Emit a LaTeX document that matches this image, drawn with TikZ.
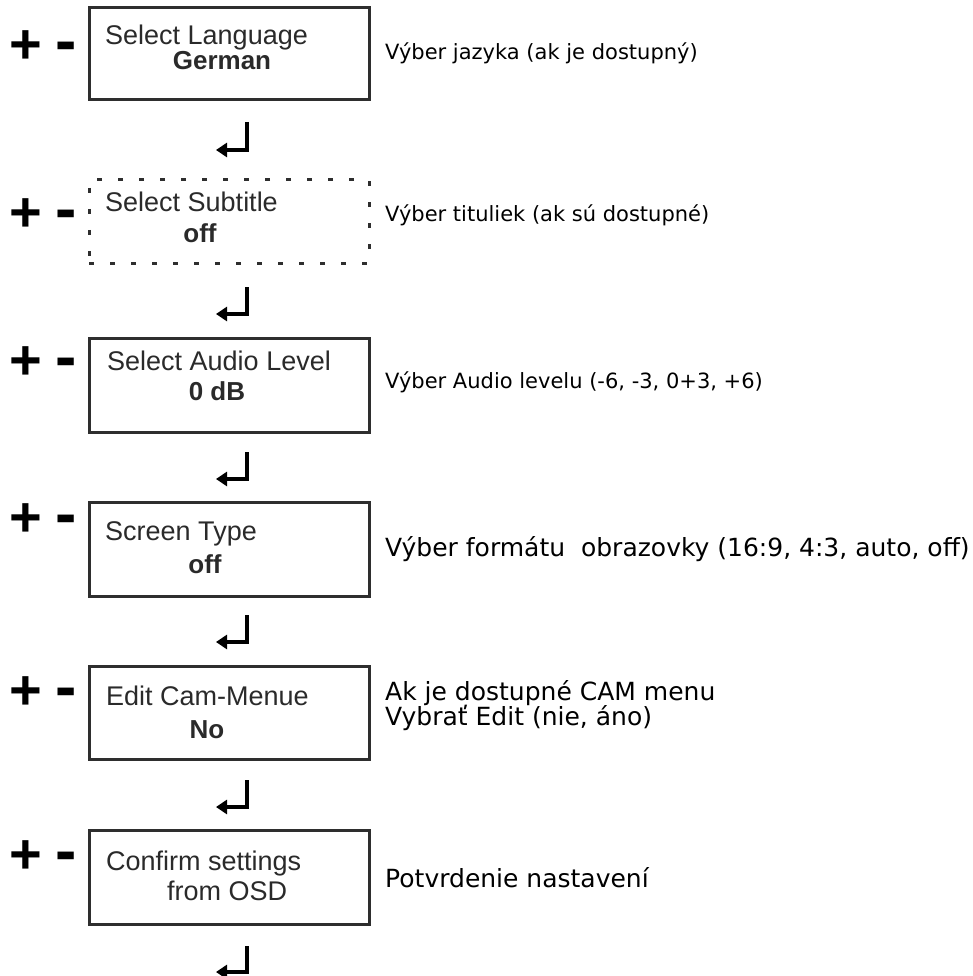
\documentclass[tikz,border=0pt]{standalone}
\usepackage{fontspec}
\setmainfont{Liberation Sans}
\newfontfamily\descfont{DejaVu Sans}
\usetikzlibrary{arrows.meta}
\definecolor{boxline}{HTML}{2E2E2E}
\definecolor{boxtext}{HTML}{2A2A2A}
\tikzset{
  menubox/.style={draw=boxline, line width=3pt, minimum width=280pt, inner sep=0pt, fill=none},
  dashbox/.style={draw=boxline, line width=3pt, dash pattern=on 5pt off 16pt, minimum width=280pt, inner sep=0pt},
  boxtxt/.style={inner sep=0pt, text=boxtext, font=\fontsize{27}{31}\selectfont},
  boxbold/.style={inner sep=0pt, text=boxtext, font=\fontsize{26}{30}\selectfont\bfseries},
  desc/.style={inner sep=0pt, anchor=base west, text=black, font=\descfont\fontsize{21}{25}\selectfont},
  descbig/.style={inner sep=0pt, anchor=base west, text=black, font=\descfont\fontsize{25}{29}\selectfont},
  pm/.style={inner sep=0pt, text=black, font=\fontsize{56}{60}\selectfont\bfseries},
  mn/.style={inner sep=0pt, text=black, font=\fontsize{64}{68}\selectfont\bfseries},
  retarrow/.style={line width=4pt, -{Triangle[length=11pt,width=14pt]}},
}
\begin{document}
\begin{tikzpicture}[x=1pt,y=-1pt]
\useasboundingbox (0,0) rectangle (972,976);

% ---- row 1
\node[pm] (p1) at (26,47) {+};
\node[mn] (m1) at (66,52) {-};
\node[menubox, minimum height=92pt] (b1) at (229,54) {};
\node[boxtxt, anchor=base west] (b1a) at (105,45) {Select Language};
\node[boxbold, anchor=base] (b1b) at (222,70) {German};
\node[desc] (d1) at (385,60) {Výber jazyka (ak je dostupný)};
\coordinate (r1a) at (247,122);
\coordinate (r1b) at (247,150);
\coordinate (r1c) at (216,150);
\draw[retarrow] (r1a) -- (r1b) -- (r1c);

% ---- row 2
\node[pm] (p2) at (26,215) {+};
\node[mn] (m2) at (66,220) {-};
\node[dashbox, minimum height=83pt] (b2) at (229,221.5) {};
\node[boxtxt, anchor=base west] (b2a) at (105,212) {Select Subtitle};
\node[boxbold, anchor=base] (b2b) at (200,243) {off};
\node[desc] (d2) at (385,222) {Výber tituliek (ak sú dostupné)};
\coordinate (r2a) at (247,287);
\coordinate (r2b) at (247,314);
\coordinate (r2c) at (216,314);
\draw[retarrow] (r2a) -- (r2b) -- (r2c);

% ---- row 3
\node[pm] (p3) at (26,363) {+};
\node[mn] (m3) at (66,368) {-};
\node[menubox, minimum height=94pt] (b3) at (229,385) {};
\node[boxtxt, anchor=base west] (b3a) at (107,370) {Select Audio Level};
\node[boxbold, anchor=base] (b3b) at (217,400) {0 dB};
\node[desc] (d3) at (385,388) {Výber Audio levelu (-6, -3, 0+3, +6)};
\coordinate (r3a) at (247,452);
\coordinate (r3b) at (247,479);
\coordinate (r3c) at (216,479);
\draw[retarrow] (r3a) -- (r3b) -- (r3c);

% ---- row 4
\node[pm] (p4) at (26,520) {+};
\node[mn] (m4) at (66,525) {-};
\node[menubox, minimum height=94pt] (b4) at (229,549) {};
\node[boxtxt, anchor=base west] (b4a) at (105,540) {Screen Type};
\node[boxbold, anchor=base] (b4b) at (205,573) {off};
\node[descbig] (d4) at (385,556) {Výber formátu \ obrazovky (16:9, 4:3, auto, off)};
\coordinate (r4a) at (247,615);
\coordinate (r4b) at (247,642);
\coordinate (r4c) at (216,642);
\draw[retarrow] (r4a) -- (r4b) -- (r4c);

% ---- row 5
\node[pm] (p5) at (26,693) {+};
\node[mn] (m5) at (66,698) {-};
\node[menubox, minimum height=93pt] (b5) at (229,712.5) {};
\node[boxtxt, anchor=base west] (b5a) at (106,705) {Edit Cam-Menue};
\node[boxbold, anchor=base] (b5b) at (207,738) {No};
\node[descbig] (d5a) at (385,700) {Ak je dostupné CAM menu};
\node[descbig] (d5b) at (385,725) {Vybrať Edit (nie, áno)};
\coordinate (r5a) at (247,780);
\coordinate (r5b) at (247,807);
\coordinate (r5c) at (216,807);
\draw[retarrow] (r5a) -- (r5b) -- (r5c);

% ---- row 6
\node[pm] (p6) at (26,857) {+};
\node[mn] (m6) at (66,862) {-};
\node[menubox, minimum height=94pt] (b6) at (229,877) {};
\node[boxtxt, anchor=base west] (b6a) at (106,870) {Confirm settings};
\node[boxtxt, anchor=base west] (b6b) at (167,900) {from OSD};
\node[descbig] (d6) at (385,887) {Potvrdenie nastavení};
\coordinate (r6a) at (247,946);
\coordinate (r6b) at (247,972);
\coordinate (r6c) at (216,972);
\draw[retarrow] (r6a) -- (r6b) -- (r6c);
\end{tikzpicture}
\end{document}
